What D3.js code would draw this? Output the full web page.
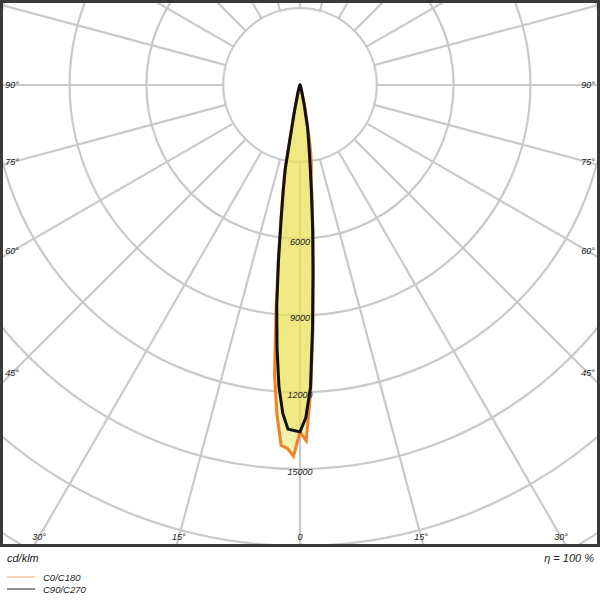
<!DOCTYPE html>
<html lang="en">
<head>
<meta charset="UTF-8">
<title>LDC polar</title>
<style>
body { margin: 0; background: #fff; }
text {
  font-family: 'Liberation Sans', Arial, sans-serif;
  font-style: italic;
  fill: #222;
}
</style>
</head>
<body>
<div id="vis"></div>
<script src="https://d3js.org/d3.v7.min.js"></script>
<script>

// gamma angles (deg from nadir) and intensities in cd/klm
const gamma = [0, 1, 2, 3, 4, 5, 6, 7, 8, 9, 10, 12, 15, 20, 30, 45, 60, 75, 90];
const c0   = [13550, 13900, 12000, 9600, 7400, 5800, 4500, 3600, 3200, 2700, 2000, 1000, 300, 80, 30, 10, 0, 0, 0];
const c180 = [13550, 14500, 14200, 14100, 12900, 11400, 9000, 7000, 5400, 4300, 3400, 1200, 300, 80, 30, 10, 0, 0, 0];
const c90  = [13550, 13000, 11800, 9400, 7300, 5700, 4300, 3300, 2600, 2100, 1700, 800, 250, 80, 30, 10, 0, 0, 0];
const c270 = [13550, 13500, 13450, 12850, 11800, 10300, 8700, 6900, 5300, 4200, 3300, 1000, 300, 80, 30, 10, 0, 0, 0];

const rings = [3000, 6000, 9000, 12000, 15000, 18000, 21000];
const ringLabels = [6000, 9000, 12000, 15000];
const sideAngles = [90, 75, 60, 45];
const bottomAngles = [30, 15, 0];

const width = 600;
const height = 600;
const cx = 300;
const cy = 85;
const rad = Math.PI / 180;

let svg = d3.select("#vis").append("svg")
    .attr("width", width)
    .attr("height", height);

svg.append("clipPath").attr("id", "clip")
  .append("rect")
    .attr("x", 3).attr("y", 3)
    .attr("width", 594).attr("height", 541);

let r = d3.scaleLinear().domain([0, 3000]).range([0, 76.8]);

let plot = svg.append("g")
    .attr("clip-path", "url(#clip)");

let g = plot.append("g")
    .attr("transform", "translate(" + cx + "," + cy + ")");

// grid
g.selectAll("circle.ring")
  .data(rings)
  .enter().append("circle")
    .attr("class", "ring")
    .attr("r", function(d){ return r(d); })
    .style("fill", "none")
    .style("stroke", "#c9c9c9")
    .style("stroke-width", 2.2);

g.selectAll("line.spoke")
  .data(d3.range(0, 360, 15))
  .enter().append("line")
    .attr("class", "spoke")
    .attr("x1", function(d){ return -r(3000) * Math.sin(d * rad); })
    .attr("y1", function(d){ return r(3000) * Math.cos(d * rad); })
    .attr("x2", function(d){ return -800 * Math.sin(d * rad); })
    .attr("y2", function(d){ return 800 * Math.cos(d * rad); })
    .style("stroke", "#c9c9c9")
    .style("stroke-width", 2.2);

// curves
function curvePoints(left, right) {
  let pts = [];
  for (let i = gamma.length - 1; i >= 0; i--) {
    pts.push({a: Math.PI + gamma[i] * rad, v: left[i]});
  }
  for (let i = 1; i < gamma.length; i++) {
    pts.push({a: Math.PI - gamma[i] * rad, v: right[i]});
  }
  return pts;
}

let line = d3.lineRadial()
    .angle(function(d){ return d.a; })
    .radius(function(d){ return r(d.v); });

const curves = [
  {name: "C0/C180", pts: curvePoints(c180, c0), color: "#f0822e"},
  {name: "C90/C270", pts: curvePoints(c270, c90), color: "#111111"}
];

g.selectAll("path.fill")
  .data(curves)
  .enter().append("path")
    .attr("class", "fill")
    .attr("d", function(d){ return line(d.pts) + "Z"; })
    .style("fill", "#ebe159")
    .style("fill-opacity", 0.5)
    .style("stroke", "none");

g.selectAll("path.outline")
  .data(curves)
  .enter().append("path")
    .attr("class", "outline")
    .attr("d", function(d){ return line(d.pts) + "Z"; })
    .style("fill", "none")
    .style("stroke", function(d){ return d.color; })
    .style("stroke-width", 3)
    .style("stroke-linejoin", "miter");

// ring labels
g.selectAll("text.rl")
  .data(ringLabels)
  .enter().append("text")
    .attr("class", "rl")
    .attr("x", 0)
    .attr("y", function(d){ return r(d) + 6; })
    .attr("text-anchor", "middle")
    .style("font-size", "9px")
    .text(function(d){ return d; });

// angle labels
sideAngles.forEach(function(a){
  let y = a === 90 ? cy : cy + (cx - 12) / Math.tan(a * rad);
  svg.append("text")
    .attr("x", 12).attr("y", y).attr("dy", "0.35em")
    .attr("text-anchor", "middle")
    .style("font-size", "9px")
    .text(a + "°");
  svg.append("text")
    .attr("x", 588).attr("y", y).attr("dy", "0.35em")
    .attr("text-anchor", "middle")
    .style("font-size", "9px")
    .text(a + "°");
});

bottomAngles.forEach(function(a){
  let dx = (537 - cy) * Math.tan(a * rad);
  let lbl = a === 0 ? "0" : a + "°";
  svg.append("text")
    .attr("x", cx - dx).attr("y", 537).attr("dy", "0.35em")
    .attr("text-anchor", "middle")
    .style("font-size", "9px")
    .text(lbl);
  if (a !== 0) {
    svg.append("text")
      .attr("x", cx + dx).attr("y", 537).attr("dy", "0.35em")
      .attr("text-anchor", "middle")
      .style("font-size", "9px")
      .text(lbl);
  }
});

// frame
svg.append("rect")
    .attr("x", 1.5).attr("y", 1.5)
    .attr("width", 597).attr("height", 544)
    .style("fill", "none")
    .style("stroke", "#3a3a3a")
    .style("stroke-width", 3);

// footer
svg.append("text")
    .attr("x", 7).attr("y", 562)
    .style("font-size", "11px")
    .text("cd/klm");

svg.append("text")
    .attr("x", 594).attr("y", 562)
    .attr("text-anchor", "end")
    .style("font-size", "11px")
    .text("η = 100 %");

const legendColors = ["#f5b183", "#444444"];
curves.forEach(function(c, i){
  let y = 577 + i * 12;
  svg.append("line")
    .attr("x1", 7).attr("x2", 35)
    .attr("y1", y).attr("y2", y)
    .style("stroke", legendColors[i])
    .style("stroke-width", 1.2);
  svg.append("text")
    .attr("x", 43).attr("y", y + 3.5)
    .style("font-size", "9.5px")
    .text(c.name);
});

</script>
</body>
</html>
